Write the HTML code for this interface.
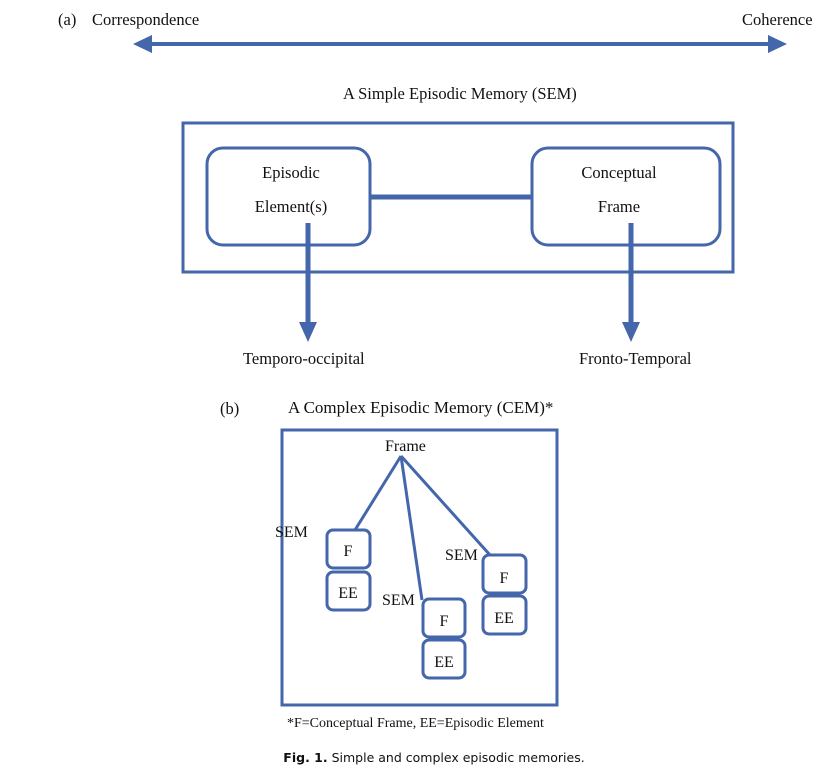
<!DOCTYPE html>
<html><head><meta charset="utf-8"><style>
body{margin:0;background:#fff;}
svg text{font-family:"Liberation Serif",serif;fill:#111;}
</style></head><body>
<svg width="833" height="776" viewBox="0 0 833 776" xmlns="http://www.w3.org/2000/svg">
<g font-size="16.5">
<text x="58" y="25">(a)</text>
<text x="92" y="25">Correspondence</text>
<text x="742" y="25">Coherence</text>
</g>
<line x1="145" y1="44" x2="775" y2="44" stroke="#4466aa" stroke-width="4"/>
<polygon points="133,44 152,35 152,53" fill="#4466aa"/>
<polygon points="787,44 768,35 768,53" fill="#4466aa"/>
<text x="343" y="99" font-size="16.5">A Simple Episodic Memory (SEM)</text>
<rect x="183" y="123" width="550" height="149" fill="none" stroke="#4466aa" stroke-width="3"/>
<rect x="207" y="148" width="163" height="97" rx="16" fill="none" stroke="#4466aa" stroke-width="3"/>
<rect x="532" y="148" width="188" height="97" rx="16" fill="none" stroke="#4466aa" stroke-width="3"/>
<line x1="370" y1="197" x2="532" y2="197" stroke="#4466aa" stroke-width="5"/>
<g font-size="16.5" text-anchor="middle">
<text x="291" y="178">Episodic</text>
<text x="291" y="212">Element(s)</text>
<text x="619" y="178">Conceptual</text>
<text x="619" y="212">Frame</text>
</g>
<line x1="308" y1="223" x2="308" y2="325" stroke="#4466aa" stroke-width="5"/>
<polygon points="299,322 317,322 308,342" fill="#4466aa"/>
<line x1="631" y1="223" x2="631" y2="325" stroke="#4466aa" stroke-width="5"/>
<polygon points="622,322 640,322 631,342" fill="#4466aa"/>
<g font-size="16.5">
<text x="243" y="364">Temporo-occipital</text>
<text x="579" y="364">Fronto-Temporal</text>
<text x="220" y="414">(b)</text>
</g>
<text x="288" y="413" font-size="17">A Complex Episodic Memory (CEM)*</text>
<rect x="282" y="430" width="275" height="275" fill="none" stroke="#4466aa" stroke-width="3"/>
<text x="385" y="451" font-size="16">Frame</text>
<g stroke="#4466aa" stroke-width="3" fill="none">
<line x1="401" y1="456" x2="355" y2="530"/>
<line x1="401" y1="456" x2="422" y2="600"/>
<line x1="401" y1="456" x2="490" y2="555"/>
<rect x="327" y="530" width="43" height="38" rx="6"/>
<rect x="327" y="572" width="43" height="38" rx="6"/>
<rect x="423" y="599" width="42" height="38" rx="6"/>
<rect x="423" y="640" width="42" height="38" rx="6"/>
<rect x="483" y="555" width="43" height="38" rx="6"/>
<rect x="483" y="596" width="43" height="38" rx="6"/>
</g>
<g font-size="16">
<text x="275" y="537">SEM</text>
<text x="382" y="605">SEM</text>
<text x="445" y="560">SEM</text>
</g>
<g font-size="16" text-anchor="middle">
<text x="348" y="556">F</text>
<text x="348" y="598">EE</text>
<text x="444" y="626">F</text>
<text x="444" y="667">EE</text>
<text x="504" y="583">F</text>
<text x="504" y="623">EE</text>
</g>
<text x="287" y="727" font-size="14">*F=Conceptual Frame, EE=Episodic Element</text>
<text x="434" y="762" font-size="12.5" text-anchor="middle" style="font-family:'DejaVu Sans',sans-serif"><tspan font-weight="bold">Fig. 1.</tspan> Simple and complex episodic memories.</text>
</svg>
</body></html>
